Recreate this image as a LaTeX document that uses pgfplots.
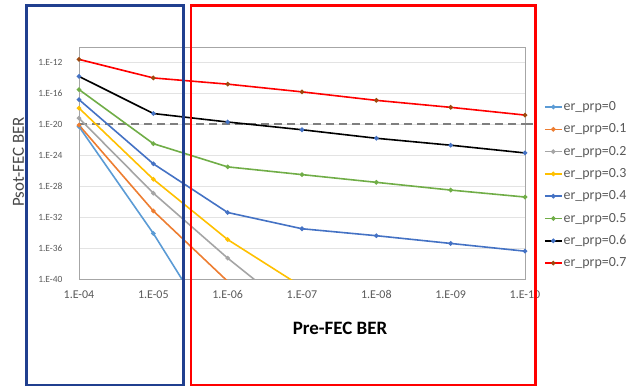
\documentclass[border=0pt]{standalone}
\usepackage{pgfplots}
\pgfplotsset{compat=1.18}
\usepackage{fontspec}
\setmainfont{Carlito}
\definecolor{cA}{HTML}{5B9BD5}
\definecolor{cB}{HTML}{ED7D31}
\definecolor{cC}{HTML}{A5A5A5}
\definecolor{cD}{HTML}{FFC000}
\definecolor{cE}{HTML}{4472C4}
\definecolor{cF}{HTML}{70AD47}
\definecolor{cG}{HTML}{000000}
\definecolor{cH}{HTML}{FF0000}
\definecolor{mkH}{HTML}{9E480E}
\definecolor{tickgray}{HTML}{595959}
\definecolor{boxgray}{HTML}{A6A6A6}
\definecolor{gridgray}{HTML}{E3E3E3}
\definecolor{dashgray}{HTML}{7F7F7F}
\definecolor{rectblue}{HTML}{203F8F}
\definecolor{rectred}{HTML}{FF0000}
\begin{document}
\begin{tikzpicture}
\useasboundingbox (0,0) rectangle (629bp,-387bp);
\begin{axis}[at={(79bp,-279bp)}, anchor=south west, width=446bp, height=232bp, scale only axis,
  xmode=log, ymode=log, x dir=reverse, xmin=1e-10, xmax=1e-4, ymin=1e-40, ymax=1e-10,
  axis line style={draw=boxgray, line width=0.8bp},
  major tick length=0pt,
  ymajorgrids, minor tick num=0,
  major grid style={draw=gridgray, line width=0.6bp},
  xtick={1e-4,1e-5,1e-6,1e-7,1e-8,1e-9,1e-10},
  xticklabels={1.E-04,1.E-05,1.E-06,1.E-07,1.E-08,1.E-09,1.E-10},
  ytick={1e-40,1e-36,1e-32,1e-28,1e-24,1e-20,1e-16,1e-12},
  yticklabels={1.E-40,1.E-36,1.E-32,1.E-28,1.E-24,1.E-20,1.E-16,1.E-12},
  yticklabel style={font=\fontsize{9.5}{10}\selectfont, text=tickgray, xshift=-13bp},
  xticklabel style={font=\fontsize{12}{12}\selectfont, text=tickgray, yshift=-8bp},
  legend style={at={(1.0426,0.7737)}, anchor=north west, draw=none, fill=none,
    inner sep=0pt, outer sep=0pt, row sep=7.3bp,
    nodes={inner sep=1bp, text height=10bp, text depth=3bp},
    font=\fontsize{14}{14}\selectfont, text=tickgray},
  legend cell align=left,
]
\addplot[forget plot, draw=dashgray, line width=1.8bp, dash pattern=on 8bp off 5bp] coordinates {(1e-4,1e-20) (1e-10,1e-20)};
\coordinate (thr) at (axis cs:1e-10,1e-20);
\pgfplotsset{every axis plot/.append style={line width=1.6bp, mark=*, mark size=1.4bp}}
\addplot[color=cA] coordinates {(1e-4,5e-21) (1e-5,7.9e-35) (1e-6,3.2e-50)};
\addplot[color=cB] coordinates {(1e-4,7.9e-21) (1e-5,6.3e-32) (1e-6,5e-41)};
\addplot[color=cC] coordinates {(1e-4,6.3e-20) (1e-5,1.26e-29) (1e-6,5e-38) (1e-7,1e-45)};
\addplot[color=cD] coordinates {(1e-4,1.26e-18) (1e-5,7.9e-28) (1e-6,1.26e-35) (1e-7,1e-41)};
\addplot[color=cE] coordinates {(1e-4,1.58e-17) (1e-5,7.9e-26) (1e-6,3.98e-32) (1e-7,3.16e-34) (1e-8,3.98e-35) (1e-9,3.98e-36) (1e-10,3.98e-37)};
\addplot[color=cF] coordinates {(1e-4,3.16e-16) (1e-5,3.16e-23) (1e-6,3.16e-26) (1e-7,3.16e-27) (1e-8,3.16e-28) (1e-9,3.16e-29) (1e-10,3.98e-30)};
\addplot[color=cG, mark options={draw=cE, fill=cE}] coordinates {(1e-4,1.58e-14) (1e-5,2.51e-19) (1e-6,2e-20) (1e-7,2e-21) (1e-8,1.58e-22) (1e-9,2e-23) (1e-10,2e-24)};
\addplot[color=cH, mark options={draw=mkH, fill=mkH}] coordinates {(1e-4,2.51e-12) (1e-5,1e-14) (1e-6,1.58e-15) (1e-7,1.58e-16) (1e-8,1.26e-17) (1e-9,1.58e-18) (1e-10,1.58e-19)};
\legend{er\_prp=0,er\_prp=0.1,er\_prp=0.2,er\_prp=0.3,er\_prp=0.4,er\_prp=0.5,er\_prp=0.6,er\_prp=0.7}
\end{axis}
\draw[draw=dashgray, line width=1.8bp, dash pattern=on 8bp off 5bp] (thr) -- ++(12bp,0);
\node[font=\fontsize{19}{19}\selectfont\bfseries, text=black] at (340bp,-328.7bp) {Pre-FEC BER};
\node[font=\fontsize{17}{17}\selectfont, text=tickgray!80!black, rotate=90] at (18.5bp,-162bp) {Psot-FEC BER};
\draw[rectblue, line width=2.8bp] (26.7bp,-5.7bp) rectangle (183.3bp,-385bp);
\draw[rectred, line width=2.8bp] (191bp,-5.5bp) rectangle (535.7bp,-385bp);
\end{tikzpicture}
\end{document}
